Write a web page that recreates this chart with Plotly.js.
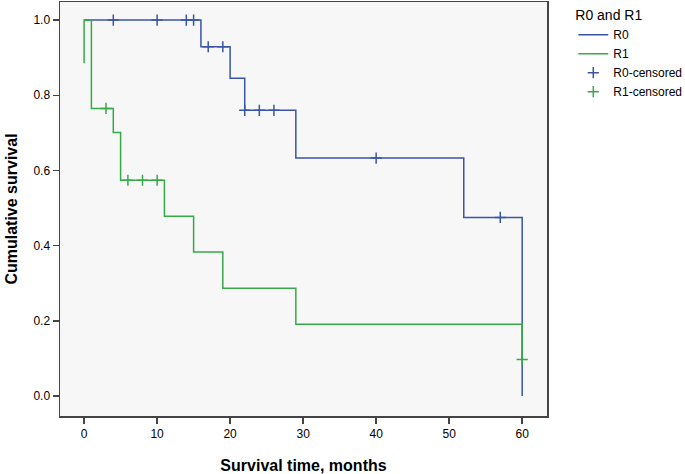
<!DOCTYPE html>
<html>
<head>
<meta charset="utf-8">
<script src="https://cdn.plot.ly/plotly-3.0.1.min.js"></script>
<style>html,body{margin:0;padding:0;background:#fff;}#chart{width:685px;height:474px;}</style>
</head>
<body>
<div id="chart"></div>
<script>
// Kaplan-Meier step points (time in months, cumulative survival)
const r0Time = [0, 16, 20, 22, 29, 52, 60];
const r0Surv = [1.0, 0.929, 0.845, 0.760, 0.633, 0.475, 0.0];
const r1Time = [0, 0, 1, 4, 5, 11, 15, 19, 29, 60];
const r1Surv = [0.885, 1.0, 0.765, 0.701, 0.574, 0.478, 0.383, 0.287, 0.191, 0.097];
// Censored observations
const r0CensTime = [4, 10, 14, 15, 17, 19, 22, 24, 26, 40, 57];
const r0CensSurv = [1.0, 1.0, 1.0, 1.0, 0.929, 0.929, 0.760, 0.760, 0.760, 0.633, 0.475];
const r1CensTime = [3, 6, 8, 10, 60];
const r1CensSurv = [0.765, 0.574, 0.574, 0.574, 0.097];
// Axis ticks
const xTicks = [0, 10, 20, 30, 40, 50, 60];
const yTicks = [0.0, 0.2, 0.4, 0.6, 0.8, 1.0];

const blue = '#3A55A6';
const green = '#36AA48';
const FONT = 'Liberation Sans, Arial, sans-serif';

const traces = [
  {x: r0Time, y: r0Surv, name: 'R0', mode: 'lines', line: {shape: 'hv', color: blue, width: 1.5}},
  {x: r1Time, y: r1Surv, name: 'R1', mode: 'lines', line: {shape: 'hv', color: green, width: 1.5}},
  {x: r0CensTime, y: r0CensSurv, name: 'R0-censored', mode: 'markers',
   marker: {symbol: 'cross-thin-open', size: 8, color: blue, line: {color: blue, width: 1.5}}},
  {x: r1CensTime, y: r1CensSurv, name: 'R1-censored', mode: 'markers',
   marker: {symbol: 'cross-thin-open', size: 8, color: green, line: {color: green, width: 1.5}}}
];

const layout = {
  width: 685, height: 474,
  margin: {l: 60, r: 138, t: 2, b: 58, autoexpand: false},
  paper_bgcolor: '#ffffff',
  plot_bgcolor: '#f7f7f7',
  font: {family: FONT, size: 12, color: '#000'},
  showlegend: true,
  legend: {
    x: 1.054, xanchor: 'left', y: 1.0, yanchor: 'top',
    title: {text: 'R0 and R1', font: {size: 14, family: FONT}, side: 'top'},
    font: {size: 12, family: FONT},
    bgcolor: 'rgba(0,0,0,0)', tracegroupgap: 0
  },
  xaxis: {
    range: [-3.3, 63.4],
    tickvals: xTicks, ticktext: xTicks.map(String),
    ticks: 'outside', ticklen: 6, tickwidth: 1.5, tickcolor: '#444',
    showgrid: false, zeroline: false,
    showline: true, linecolor: '#444', linewidth: 1.5, mirror: true,
    tickfont: {size: 12, family: FONT},
    title: {text: '<b>Survival time, months</b>', font: {size: 16, family: FONT}, standoff: 20}
  },
  yaxis: {
    range: [-0.053, 1.048],
    tickvals: yTicks, ticktext: yTicks.map(v => v.toFixed(1)),
    ticks: 'outside', ticklen: 6, tickwidth: 1.5, tickcolor: '#444',
    showgrid: false, zeroline: false,
    showline: true, linecolor: '#444', linewidth: 1.5, mirror: true,
    tickfont: {size: 12, family: FONT},
    title: {text: '<b>Cumulative survival</b>', font: {size: 16, family: FONT}, standoff: 12}
  }
};

Plotly.newPlot('chart', traces, layout, {displayModeBar: false, staticPlot: true});
</script>
</body>
</html>
